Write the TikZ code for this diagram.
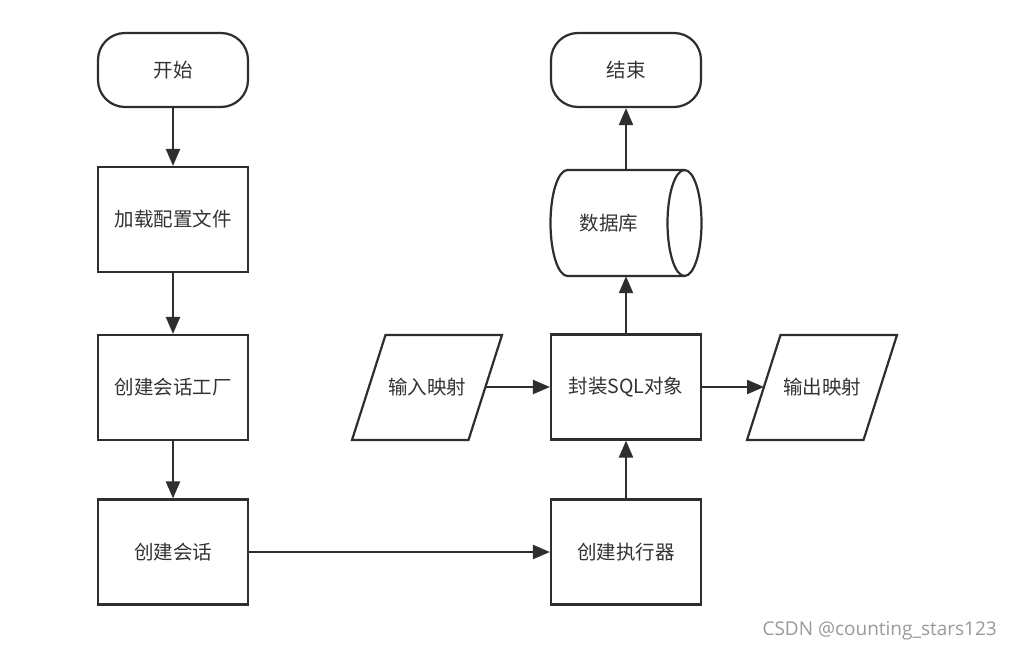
\documentclass[tikz,border=0pt]{standalone}
\usepackage{fontspec}
\setmainfont{Noto Sans CJK SC}
\newfontfamily\wmfont{Open Sans}
\usetikzlibrary{arrows.meta,shapes.geometric}
\definecolor{ln}{HTML}{2E2E2E}
\definecolor{tx}{HTML}{333333}
\definecolor{wm}{HTML}{9A9A9A}
\tikzset{
  lbl/.style={text=tx, font=\fontsize{19.5}{22}\selectfont, inner sep=0pt},
  base/.style={draw=ln, line width=2.2pt, fill=white, lbl},
  procbox/.style={base, rectangle, minimum width=150pt, minimum height=105pt},
  termbox/.style={base, rectangle, rounded corners=27pt, minimum width=150pt, minimum height=74pt},
  ghost/.style={inner sep=0pt, minimum width=150pt, minimum height=105pt},
  shp/.style={draw=ln, line width=2.2pt, fill=white},
  conn/.style={draw=ln, line width=2.2pt, -{Triangle[length=17pt,width=14pt]}},
}
\begin{document}
\begin{tikzpicture}[x=1pt,y=-1pt]
\useasboundingbox (0,0) rectangle (1011,652);
\fill[white] (0,0) rectangle (1011,652);
\node[termbox] (start) at (173,70) {开始};
\node[procbox] (load) at (173,219.5) {加载配置文件};
\node[procbox] (fac) at (173,387.5) {创建会话工厂};
\node[procbox] (sess) at (173,552) {创建会话};
\node[procbox] (exec) at (626,552) {创建执行器};
\node[procbox] (sql) at (626,387) {封装SQL对象};
\node[termbox] (end) at (626,70) {结束};
% parallelograms
\node[ghost] (in) at (427,387) {};
\draw[shp] (385.5,335) -- (502,335) -- (468.5,440) -- (352,440) -- cycle;
\node[lbl] (inlbl) at (in.center) {输入映射};
\node[ghost] (out) at (822,387) {};
\draw[shp] (780.5,335) -- (897,335) -- (863.5,440) -- (747,440) -- cycle;
\node[lbl] (outlbl) at (out.center) {输出映射};
% cylinder
\node[ghost, minimum width=151pt, minimum height=106pt] (db) at (626,223) {};
\draw[shp] (684.5,170) -- (567.5,170) arc[start angle=90, end angle=270, x radius=17, y radius=-53] -- (684.5,276) arc[start angle=270, end angle=450, x radius=17, y radius=-53] -- cycle;
\draw[draw=ln, line width=2.2pt] (684.5,170) arc[start angle=90, end angle=270, x radius=17, y radius=-53];
\node[lbl] (dblbl) at (609,223) {数据库};
% connectors
\draw[conn] (start) -- (load);
\draw[conn] (load) -- (fac);
\draw[conn] (fac) -- (sess);
\draw[conn] (sess) -- (exec);
\draw[conn] (exec) -- (sql);
\draw[conn] (sql) -- (db);
\draw[conn] (db) -- (end);
\draw[conn] (485,387) -- (sql.west);
\draw[conn] (sql.east) -- (764,387);
\node[text=wm, font=\wmfont\fontsize{19}{22}\selectfont, anchor=east, inner sep=0pt] (wm) at (997,631) {CSDN @counting\_stars123};
\end{tikzpicture}
\end{document}
